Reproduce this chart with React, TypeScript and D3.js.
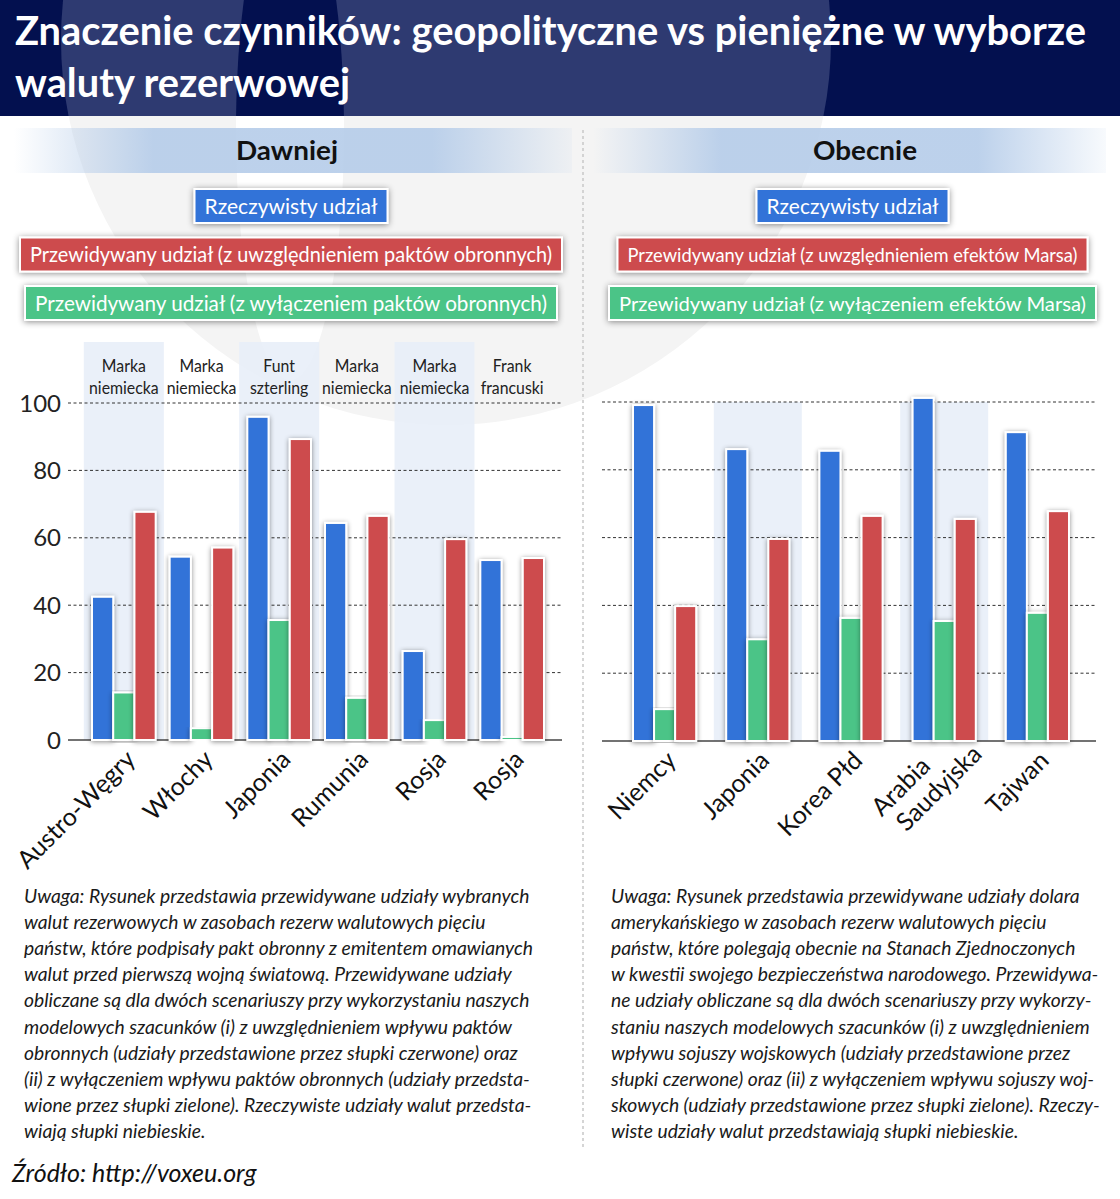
import * as d3 from 'd3'
import React from 'react'

// ---- data ----
const pastCountries = ['Austro-Węgry', 'Włochy', 'Japonia', 'Rumunia', 'Rosja', 'Rosja']
const pastCurrencies = [
    'Marka\nniemiecka',
    'Marka\nniemiecka',
    'Funt\nszterling',
    'Marka\nniemiecka',
    'Marka\nniemiecka',
    'Frank\nfrancuski',
]
const pastActual = [42.5, 54.4, 95.9, 64.4, 26.4, 53.4]
const pastWithout = [14.1, 3.5, 35.6, 12.5, 5.9, 0.9]
const pastWith = [67.7, 57.1, 89.3, 66.5, 59.6, 54]

const nowCountries = ['Niemcy', 'Japonia', 'Korea Płd', 'Arabia\nSaudyjska', 'Tajwan']
const nowActual = [99.1, 86.1, 85.6, 101.2, 91.1]
const nowWithout = [9.4, 30, 36.3, 35.4, 37.8]
const nowWith = [39.8, 59.6, 66.4, 65.5, 67.8]

const yTicks = [0, 20, 40, 60, 80, 100]

const pastLegend = [
    'Rzeczywisty udział',
    'Przewidywany udział (z uwzględnieniem paktów obronnych)',
    'Przewidywany udział (z wyłączeniem paktów obronnych)',
]
const nowLegend = [
    'Rzeczywisty udział',
    'Przewidywany udział (z uwzględnieniem efektów Marsa)',
    'Przewidywany udział (z wyłączeniem efektów Marsa)',
]

const titleLines = ['Znaczenie czynników: geopolityczne vs pieniężne w wyborze', 'waluty rezerwowej']

const pastNote = [
    'Uwaga: Rysunek przedstawia przewidywane udziały wybranych',
    'walut rezerwowych w zasobach rezerw walutowych pięciu',
    'państw, które podpisały pakt obronny z emitentem omawianych',
    'walut przed pierwszą wojną światową. Przewidywane udziały',
    'obliczane są dla dwóch scenariuszy przy wykorzystaniu naszych',
    'modelowych szacunków (i) z uwzględnieniem wpływu paktów',
    'obronnych (udziały przedstawione przez słupki czerwone) oraz',
    '(ii) z wyłączeniem wpływu paktów obronnych (udziały przedsta-',
    'wione przez słupki zielone). Rzeczywiste udziały walut przedsta-',
    'wiają słupki niebieskie.',
]
const nowNote = [
    'Uwaga: Rysunek przedstawia przewidywane udziały dolara',
    'amerykańskiego w zasobach rezerw walutowych pięciu',
    'państw, które polegają obecnie na Stanach Zjednoczonych',
    'w kwestii swojego bezpieczeństwa narodowego. Przewidywa-',
    'ne udziały obliczane są dla dwóch scenariuszy przy wykorzy-',
    'staniu naszych modelowych szacunków (i) z uwzględnieniem',
    'wpływu sojuszy wojskowych (udziały przedstawione przez',
    'słupki czerwone) oraz (ii) z wyłączeniem wpływu sojuszy woj-',
    'skowych (udziały przedstawione przez słupki zielone). Rzeczy-',
    'wiste udziały walut przedstawiają słupki niebieskie.',
]
const source = 'Źródło: http://voxeu.org'

// ---- style ----
const W = 1120
const H = 1199
const HEADER_H = 116
const NAVY = '#03104f'
const NAVY_LIGHT = '#2e3a71'
const BLUE = '#3273d8'
const GREEN = '#4bc487'
const RED = '#cd4c4e'
const SHADE = '#e8eef8'
const FONT = 'Lato, "Open Sans", sans-serif'
const seriesKeys = ['actual', 'without', 'with']
const seriesColors = [BLUE, GREEN, RED]

interface IPanel {
    title: string
    titleX: number
    titleW: number
    band: [number, number]
    countries: string[]
    currencies?: string[]
    values: number[][]
    legend: string[]
    legendX: number
    legendW: number[]
    legendFont: number[]
    xRange: [number, number]
    innerPad: number
    yRange: [number, number]
    gridRange: [number, number]
    shaded: number[]
    shadeWidth: number
    shadeTop: number
    yAxis: boolean
    note: string[]
    noteX: number
}

const panels: IPanel[] = [
    {
        title: 'Dawniej',
        titleX: 287,
        titleW: 102,
        band: [14, 572],
        countries: pastCountries,
        currencies: pastCurrencies,
        values: [pastActual, pastWithout, pastWith],
        legend: pastLegend,
        legendX: 291,
        legendW: [173, 522, 512],
        legendFont: [22, 22, 22],
        xRange: [85, 551],
        innerPad: 7,
        yRange: [740, 403],
        gridRange: [68, 562],
        shaded: [0, 2, 4],
        shadeWidth: 80,
        shadeTop: 342,
        yAxis: true,
        note: pastNote,
        noteX: 24,
    },
    {
        title: 'Obecnie',
        titleX: 865,
        titleW: 104,
        band: [593, 1106],
        countries: nowCountries,
        values: [nowActual, nowWithout, nowWith],
        legend: nowLegend,
        legendX: 852.5,
        legendW: [172, 450, 467],
        legendFont: [22, 20, 20],
        xRange: [618, 1084],
        innerPad: 15,
        yRange: [741, 402],
        gridRange: [602, 1096],
        shaded: [1, 3],
        shadeWidth: 88,
        shadeTop: 402,
        yAxis: false,
        note: nowNote,
        noteX: 611,
    },
]

const legendRowsY = [206, 254.5, 303]

export default function App() {
    const svgRef = React.useRef<SVGSVGElement | null>(null)

    React.useEffect(() => {
        const svg = d3.select(svgRef.current)
        svg.selectAll('*').remove()

        const defs = svg.append('defs')
        const barShadow = defs
            .append('filter')
            .attr('id', 'barShadow')
            .attr('x', '-40%')
            .attr('y', '-5%')
            .attr('width', '180%')
            .attr('height', '110%')
        barShadow
            .append('feDropShadow')
            .attr('dx', 0)
            .attr('dy', 1)
            .attr('stdDeviation', 2.5)
            .attr('flood-color', '#000')
            .attr('flood-opacity', 0.45)
        const boxShadow = defs
            .append('filter')
            .attr('id', 'boxShadow')
            .attr('x', '-5%')
            .attr('y', '-40%')
            .attr('width', '110%')
            .attr('height', '180%')
        boxShadow
            .append('feDropShadow')
            .attr('dx', 0)
            .attr('dy', 1)
            .attr('stdDeviation', 3)
            .attr('flood-color', '#000')
            .attr('flood-opacity', 0.45)

        const grad = defs.append('linearGradient').attr('id', 'sectionGrad')
        ;[
            [0, 0],
            [0.25, 0.9],
            [0.75, 0.9],
            [1, 0.1],
        ].forEach(([o, a]) => {
            grad.append('stop').attr('offset', o).attr('stop-color', '#b5cce9').attr('stop-opacity', a)
        })

        defs.append('clipPath').attr('id', 'clipHead').append('rect').attr('width', W).attr('height', HEADER_H)
        defs.append('clipPath')
            .attr('id', 'clipBody')
            .append('rect')
            .attr('y', HEADER_H)
            .attr('width', W)
            .attr('height', H - HEADER_H)

        // background + watermark
        svg.append('rect').attr('width', W).attr('height', H).attr('fill', '#fff')
        const body = svg.append('g').attr('clip-path', 'url(#clipBody)')
        body.append('circle').attr('cx', 446).attr('cy', 40).attr('r', 385).attr('fill', '#f4f4f4')
        body.append('ellipse').attr('cx', 290).attr('cy', 130).attr('rx', 54).attr('ry', 250).attr('fill', '#fff')

        const head = svg.append('g').attr('clip-path', 'url(#clipHead)')
        head.append('rect').attr('width', W).attr('height', HEADER_H).attr('fill', NAVY)
        head.append('circle').attr('cx', 446).attr('cy', 40).attr('r', 385).attr('fill', NAVY_LIGHT)
        head.append('ellipse').attr('cx', 290).attr('cy', 130).attr('rx', 54).attr('ry', 250).attr('fill', NAVY)

        const titleW = [1071, 335]
        svg.append('g')
            .selectAll('text')
            .data(titleLines)
            .join('text')
            .attr('x', 15)
            .attr('y', (d, i) => 45 + i * 52)
            .attr('textLength', (d, i) => titleW[i])
            .attr('lengthAdjust', 'spacingAndGlyphs')
            .attr('fill', '#fff')
            .attr('font-family', FONT)
            .attr('font-weight', 700)
            .attr('font-size', 40)
            .text((d) => d)

        // divider
        svg.append('line')
            .attr('x1', 583)
            .attr('x2', 583)
            .attr('y1', 130)
            .attr('y2', 1148)
            .attr('stroke', '#c8c8c8')
            .attr('stroke-width', 1.5)
            .attr('stroke-dasharray', '3,3')

        panels.forEach((p) => {
            const g = svg.append('g')

            // section title bar
            g.append('rect')
                .attr('x', p.band[0])
                .attr('y', 128)
                .attr('width', p.band[1] - p.band[0])
                .attr('height', 45)
                .attr('fill', 'url(#sectionGrad)')
            g.append('text')
                .attr('x', p.titleX)
                .attr('y', 160)
                .attr('text-anchor', 'middle')
                .attr('textLength', p.titleW)
                .attr('lengthAdjust', 'spacingAndGlyphs')
                .attr('font-family', FONT)
                .attr('font-weight', 700)
                .attr('font-size', 27)
                .attr('fill', '#111')
                .text(p.title)

            // legend boxes
            p.legend.forEach((label, i) => {
                const tw = p.legendW[i]
                const bw = tw + 20
                g.append('rect')
                    .attr('x', p.legendX - bw / 2)
                    .attr('y', legendRowsY[i] - 17)
                    .attr('width', bw)
                    .attr('height', 34)
                    .attr('fill', seriesColors[i === 0 ? 0 : i === 1 ? 2 : 1])
                    .attr('stroke', '#fff')
                    .attr('stroke-width', 2)
                    .attr('filter', 'url(#boxShadow)')
                g.append('text')
                    .attr('x', p.legendX)
                    .attr('y', legendRowsY[i] + 7.5)
                    .attr('text-anchor', 'middle')
                    .attr('textLength', tw)
                    .attr('lengthAdjust', 'spacingAndGlyphs')
                    .attr('font-family', FONT)
                    .attr('font-size', p.legendFont[i])
                    .attr('fill', '#fff')
                    .text(label)
            })

            // scales
            const n = p.countries.length
            const x0 = d3.scaleBand<number>().domain(d3.range(n)).range(p.xRange)
            const x1 = d3
                .scaleBand<string>()
                .domain(seriesKeys)
                .range([p.innerPad, x0.bandwidth() - p.innerPad])
            const y = d3.scaleLinear().domain([0, 100]).range(p.yRange)
            const cx = (i: number) => (x0(i) || 0) + x0.bandwidth() / 2

            // shaded bands
            g.append('g')
                .selectAll('rect')
                .data(p.shaded)
                .join('rect')
                .attr('x', (i) => cx(i) - p.shadeWidth / 2)
                .attr('y', p.shadeTop)
                .attr('width', p.shadeWidth)
                .attr('height', y(0) - p.shadeTop)
                .attr('fill', SHADE)
                .attr('opacity', 0.9)

            // grid
            g.append('g')
                .selectAll('line')
                .data(yTicks.filter((t) => t > 0))
                .join('line')
                .attr('x1', p.gridRange[0])
                .attr('x2', p.gridRange[1])
                .attr('y1', (d) => y(d))
                .attr('y2', (d) => y(d))
                .attr('stroke', '#333')
                .attr('stroke-width', 1)
                .attr('stroke-dasharray', '3,2.5')
            g.append('line')
                .attr('x1', p.gridRange[0])
                .attr('x2', p.gridRange[1])
                .attr('y1', y(0))
                .attr('y2', y(0))
                .attr('stroke', '#444')
                .attr('stroke-width', 1.5)

            if (p.yAxis) {
                g.append('g')
                    .selectAll('text')
                    .data(yTicks)
                    .join('text')
                    .attr('x', 61)
                    .attr('y', (d) => y(d) + 8.5)
                    .attr('text-anchor', 'end')
                    .attr('font-family', FONT)
                    .attr('font-size', 24)
                    .attr('fill', '#222')
                    .text((d) => d)
            }

            // bars
            const rows = d3.range(n).flatMap((i) =>
                seriesKeys.map((k, s) => ({ i, k, s, v: p.values[s][i] }))
            )
            g.append('g')
                .selectAll('rect')
                .data(rows)
                .join('rect')
                .attr('x', (d) => (x0(d.i) || 0) + (x1(d.k) || 0))
                .attr('y', (d) => y(d.v))
                .attr('width', x1.bandwidth())
                .attr('height', (d) => y(0) - y(d.v))
                .attr('fill', (d) => seriesColors[d.s])
                .attr('stroke', '#fff')
                .attr('stroke-width', 2)
                .attr('filter', 'url(#barShadow)')

            // currency labels
            if (p.currencies) {
                const cl = g
                    .append('g')
                    .selectAll('text')
                    .data(p.currencies)
                    .join('text')
                    .attr('text-anchor', 'middle')
                    .attr('font-family', FONT)
                    .attr('font-size', 18)
                    .attr('fill', '#222')
                cl.each(function (d, i) {
                    d3.select(this)
                        .selectAll('tspan')
                        .data(d.split('\n'))
                        .join('tspan')
                        .attr('x', cx(i))
                        .attr('y', (l, j) => 372 + j * 21.5)
                        .text((l) => l)
                })
                // condensed look of the original
                cl.selectAll<SVGTSpanElement, string>('tspan').each(function () {
                    const len = this.getComputedTextLength()
                    d3.select(this).attr('textLength', len * 0.88).attr('lengthAdjust', 'spacingAndGlyphs')
                })
            }

            // country labels
            const xl = g
                .append('g')
                .selectAll('g')
                .data(p.countries)
                .join('g')
                .attr('transform', (d, i) => `translate(${cx(i) + 13},${y(0) + 21}) rotate(-45)`)
            xl.each(function (d) {
                const lines = d.split('\n')
                const offs =
                    lines.length > 1
                        ? [
                              [-22, -14],
                              [23, 14],
                          ]
                        : [[0, 0]]
                d3.select(this)
                    .selectAll('text')
                    .data(lines)
                    .join('text')
                    .attr('x', (l, j) => offs[j][0])
                    .attr('y', (l, j) => offs[j][1])
                    .attr('text-anchor', 'end')
                    .attr('font-family', FONT)
                    .attr('font-size', 25)
                    .attr('fill', '#111')
                    .text((l) => l)
            })

            // note
            g.append('g')
                .selectAll('text')
                .data(p.note)
                .join('text')
                .attr('x', p.noteX)
                .attr('y', (d, i) => 903 + i * 26.1)
                .attr('font-family', FONT)
                .attr('font-style', 'italic')
                .attr('font-size', 19.3)
                .attr('fill', '#1a1a1a')
                .text((d) => d)
        })

        svg.append('text')
            .attr('x', 12)
            .attr('y', 1182)
            .attr('font-family', FONT)
            .attr('font-style', 'italic')
            .attr('font-size', 25)
            .attr('fill', '#111')
            .text(source)
    }, [])

    return (
        <svg
            ref={svgRef}
            width={W}
            height={H}
            style={{ position: 'absolute', left: 0, top: 0, display: 'block' }}
        ></svg>
    )
}
